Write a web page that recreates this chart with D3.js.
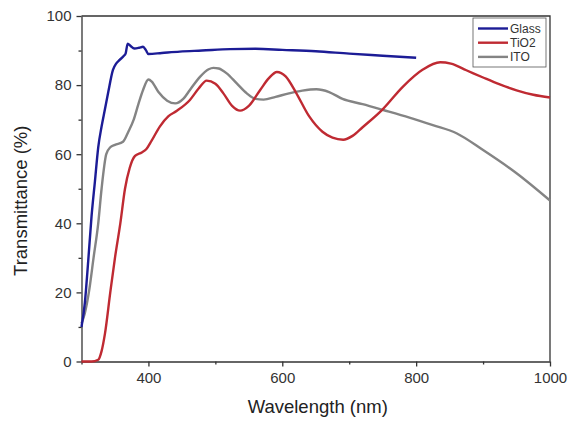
<!DOCTYPE html>
<html>
<head>
<meta charset="utf-8">
<script src="https://cdn.jsdelivr.net/npm/d3@7"></script>
<style>
  body { margin: 0; background: #fff; }
  svg { font-family: "Liberation Sans", Arial, sans-serif; }
  .axis text { font-size: 15px; fill: #333; }
  .axis path, .axis line { stroke: #333; stroke-width: 1.3; }
</style>
</head>
<body>
<div id="chart"></div>
<script>
// wavelength (nm) / transmittance (%) pairs
const glassX = [300, 305, 310, 315, 320, 325, 330, 335, 340, 347, 352, 357, 363, 366, 369, 373, 379, 386, 392, 396, 400, 420, 447, 480, 522, 560, 600, 650, 700, 750, 800];
const glassY = [10, 17, 29, 42, 52, 62, 68, 73, 78, 84.4, 86.3, 87.3, 88.4, 89.2, 92, 91.4, 90.6, 90.8, 91.1, 90.2, 89, 89.3, 89.7, 90, 90.4, 90.5, 90.2, 89.8, 89.1, 88.5, 87.9];

const tio2X = [300, 315, 325, 330, 335, 343, 350, 358, 365, 372, 380, 390, 397, 405, 417, 430, 442, 462, 475, 487, 500, 512, 525, 537, 550, 567, 580, 592, 605, 620, 640, 660, 675, 691, 705, 720, 750, 780, 810, 836, 852, 875, 900, 925, 950, 975, 1000];
const tio2Y = [0, 0, 0.5, 3, 8, 20, 30, 40, 50, 56, 59.5, 60.5, 61.5, 64, 68, 71, 72.5, 75.7, 79, 81.3, 80.4, 77.6, 74, 72.6, 74, 78.6, 82, 83.8, 82.5, 78, 71, 66.5, 64.8, 64.2, 65.3, 67.8, 73, 79.5, 84.5, 86.6, 86.2, 84.3, 82.2, 80.2, 78.5, 77.2, 76.4];

const itoX = [300, 305, 311, 318, 325, 330, 337, 343, 350, 362, 370, 378, 385, 392, 400, 405, 415, 428, 440, 452, 462, 477, 490, 497, 505, 517, 532, 547, 560, 572, 590, 610, 630, 651, 670, 690, 720, 751, 790, 825, 861, 900, 950, 1000];
const itoY = [11, 14, 20, 30, 40, 50, 60, 62, 62.7, 63.6, 66.5, 70, 74.5, 78.6, 81.6, 81, 78, 75.5, 74.7, 76, 78.6, 82.4, 84.6, 85, 84.8, 83.4, 80.5, 77.6, 76, 75.8, 76.6, 77.6, 78.4, 78.8, 78, 76, 74.5, 72.8, 70.6, 68.4, 66, 61.2, 54.5, 46.6];

const seriesNames = ['Glass', 'TiO2', 'ITO'];
const seriesColors = ['#1c1c96', '#bf2a32', '#848484'];

const xTicks = [400, 600, 800, 1000];
const xMinor = [300, 500, 700, 900];
const yTicks = [0, 20, 40, 60, 80, 100];
const yMinor = [10, 30, 50, 70, 90];

const width = 568, height = 421;
const margin = {top: 16, right: 18, bottom: 59.5, left: 81.5};

const svg = d3.select('#chart').append('svg')
  .attr('width', width).attr('height', height);

const x = d3.scaleLinear([300, 1000], [margin.left, width - margin.right]);
const y = d3.scaleLinear([0, 100], [height - margin.bottom, margin.top]);

// frame: top and right edges
svg.append('path')
  .attr('d', `M${x(300)},${y(100)}H${x(1000)}V${y(0)}`)
  .attr('fill', 'none').attr('stroke', '#333').attr('stroke-width', 1.3);

// minor ticks first, then main axes on top
svg.append('g').attr('class', 'axis')
  .attr('transform', `translate(0,${y(0)})`)
  .call(d3.axisBottom(x).tickValues(xMinor).tickSize(3).tickFormat(''))
  .call(g => g.select('.domain').remove());
svg.append('g').attr('class', 'axis')
  .attr('transform', `translate(${x(300)},0)`)
  .call(d3.axisLeft(y).tickValues(yMinor).tickSize(3).tickFormat(''))
  .call(g => g.select('.domain').remove());

svg.append('g').attr('class', 'axis')
  .attr('transform', `translate(0,${y(0)})`)
  .call(d3.axisBottom(x).tickValues(xTicks).tickFormat(d3.format('d'))
    .tickSize(5).tickSizeOuter(0).tickPadding(6));
svg.append('g').attr('class', 'axis')
  .attr('transform', `translate(${x(300)},0)`)
  .call(d3.axisLeft(y).tickValues(yTicks).tickSize(5).tickSizeOuter(0).tickPadding(5));

const series = [
  {name: seriesNames[0], xs: glassX, ys: glassY, color: seriesColors[0]},
  {name: seriesNames[1], xs: tio2X, ys: tio2Y, color: seriesColors[1]},
  {name: seriesNames[2], xs: itoX, ys: itoY, color: seriesColors[2]}
];

const line = d3.line()
  .x(d => x(d[0])).y(d => y(d[1]))
  .curve(d3.curveMonotoneX);

svg.append('g').selectAll('path')
  .data(series.slice().reverse())
  .join('path')
  .attr('fill', 'none')
  .attr('stroke', d => d.color)
  .attr('stroke-width', 2.4)
  .attr('stroke-linejoin', 'round')
  .attr('d', d => line(d.xs.map((v, i) => [v, d.ys[i]])));

// legend
const legend = svg.append('g').attr('transform', 'translate(473,18)');
legend.append('rect')
  .attr('width', 73).attr('height', 49)
  .attr('fill', '#fff').attr('stroke', '#555').attr('stroke-width', 0.8);
const items = legend.selectAll('g.item')
  .data(series).join('g')
  .attr('class', 'item')
  .attr('transform', (d, i) => `translate(0,${10.5 + i * 14.2})`);
items.append('line')
  .attr('x1', 5).attr('x2', 35)
  .attr('stroke', d => d.color).attr('stroke-width', 2.4);
items.append('text')
  .attr('x', 37).attr('dy', '0.35em')
  .style('font-size', '12px').attr('fill', '#333')
  .text(d => d.name);

// axis titles
svg.append('text')
  .attr('x', (x(300) + x(1000)) / 2 + 2).attr('y', 413)
  .attr('text-anchor', 'middle')
  .style('font-size', '18.5px').attr('fill', '#222')
  .text('Wavelength (nm)');
svg.append('text')
  .attr('transform', `translate(27,${(y(0) + y(100)) / 2 + 12})rotate(-90)`)
  .attr('text-anchor', 'middle')
  .style('font-size', '18.5px').attr('fill', '#222')
  .text('Transmittance (%)');
</script>
</body>
</html>
